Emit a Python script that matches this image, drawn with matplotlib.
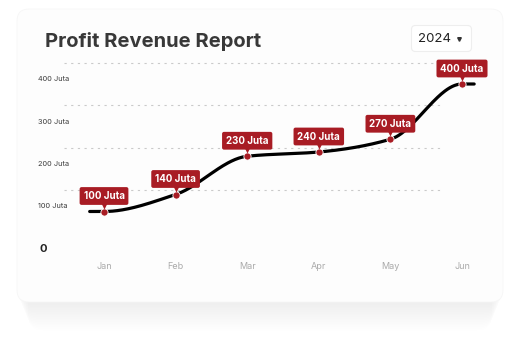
import numpy as np
import matplotlib.pyplot as plt
import matplotlib.transforms as mtransforms
from matplotlib.patches import FancyBboxPatch

plt.rcParams['font.family'] = ['Inter', 'DejaVu Sans']

# data
months = ['Jan', 'Feb', 'Mar', 'Apr', 'May', 'Jun']
profit = [100, 140, 230, 240, 270, 400]          # in Juta
y_ticks = [0, 100, 200, 300, 400]
y_tick_labels = ['0', '100 Juta', '200 Juta', '300 Juta', '400 Juta']
year = '2024'

RED = '#a81c24'
W, H = 520, 343


def monotone_cubic(xk, yk, n=60):
    """Fritsch-Carlson monotone cubic through the nodes."""
    xk = np.asarray(xk, float)
    yk = np.asarray(yk, float)
    h = np.diff(xk)
    d = np.diff(yk) / h
    m = np.zeros_like(yk)
    for i in range(1, len(yk) - 1):
        if d[i - 1] * d[i] > 0:
            w1 = 2 * h[i] + h[i - 1]
            w2 = h[i] + 2 * h[i - 1]
            m[i] = (w1 + w2) / (w1 / d[i - 1] + w2 / d[i])
    xs, ys = [], []
    for i in range(len(h)):
        t = np.linspace(0, 1, n)
        h00 = 2 * t**3 - 3 * t**2 + 1
        h10 = t**3 - 2 * t**2 + t
        h01 = -2 * t**3 + 3 * t**2
        h11 = t**3 - t**2
        xs.append(xk[i] + t * h[i])
        ys.append(h00 * yk[i] + h10 * h[i] * m[i] + h01 * yk[i + 1] + h11 * h[i] * m[i + 1])
    return np.concatenate(xs), np.concatenate(ys)


fig = plt.figure(figsize=(W / 100, H / 100), dpi=100)
fig.patch.set_facecolor('white')

# background layer in pixel coordinates
bg = fig.add_axes([0, 0, 1, 1])
bg.set_xlim(0, W)
bg.set_ylim(H, 0)
bg.axis('off')

# soft drop shadow under the card
for k in range(16):
    off = 3 + k * 1.7
    bg.add_patch(FancyBboxPatch((18 + k * 0.7, 12 + off), 484 - k * 1.4, 290,
                                boxstyle='round,pad=0,rounding_size=14',
                                fc='black', ec='none', alpha=0.0045, zorder=1))
bg.add_patch(FancyBboxPatch((17, 9), 486, 293, boxstyle='round,pad=0,rounding_size=12',
                            fc='#fdfdfd', ec='#f6f6f6', lw=0.6, zorder=2))

bg.text(45, 47, 'Profit Revenue Report', fontsize=14.5, fontweight='bold',
        color='#383838', ha='left', va='baseline', zorder=3)

# year dropdown
bg.add_patch(FancyBboxPatch((411.5, 25.5), 60, 26, boxstyle='round,pad=0,rounding_size=4',
                            fc='white', ec='#eeeeee', lw=0.8, zorder=3))
bg.text(418, 38.5, year, fontsize=9.5, color='#222222', ha='left', va='center', zorder=4)
bg.plot([459], [38.5], marker='v', ms=2.6, color='#333333', zorder=4)

# plot area
x0, x1, y0, y1 = 30, 500, 40, 258
ax = fig.add_axes([x0 / W, 1 - y1 / H, (x1 - x0) / W, (y1 - y0) / H])
ax.patch.set_alpha(0)
px_per_idx = 71.6
px_per_unit = 0.425
ax.set_xlim((x0 - 104) / px_per_idx, (x1 - 104) / px_per_idx)
ax.set_ylim((254 - y1) / px_per_unit, (254 - y0) / px_per_unit)
for s in ax.spines.values():
    s.set_visible(False)

x = np.arange(len(months))
ax.set_xticks(x)
ax.set_xticklabels(months, fontsize=6.5, color='#aaaaaa')
ax.tick_params(axis='x', length=0, pad=3)
ax.set_yticks([])

# dotted guide lines sit half a step above each tick
for v in y_ticks[1:]:
    ax.hlines(v + 50, -0.56, 4.73, colors='#cacaca', linestyles=(0, (2, 4)), lw=0.8, zorder=1)

# y labels, left aligned outside the plot area
lab_tr = mtransforms.blended_transform_factory(bg.transData, ax.transData)
lab_tr = lab_tr + mtransforms.ScaledTranslation(0, 5 / 100, fig.dpi_scale_trans)
for v, lab in zip(y_ticks, y_tick_labels):
    if v == 0:
        ax.text(39, v, lab, transform=lab_tr, fontsize=8, fontweight='bold',
                color='#222222', ha='left', va='center')
    else:
        ax.text(38, v, lab, transform=lab_tr, fontsize=5.3, color='#3a3a3a',
                ha='left', va='center')

# smooth line with short flat ends
xk = np.concatenate([[x[0] - 0.2], x, [x[-1] + 0.17]])
yk = np.concatenate([[profit[0]], profit, [profit[-1]]])
xs, ys = monotone_cubic(xk, yk)
ax.plot(xs, ys, color='black', lw=2.3, solid_capstyle='round', zorder=3)
ax.plot(x, profit, 'o', ms=5.2, mfc=RED, mec='white', mew=0.6, zorder=5)

# value callouts
ptr = ax.transData + mtransforms.ScaledTranslation(0, 6 / 100, fig.dpi_scale_trans)
for xi, v in zip(x, profit):
    ax.plot([xi], [v], marker='v', ms=4.5, color=RED, mec='none', transform=ptr, zorder=6)
    ax.annotate(f'{v} Juta', (xi, v), xytext=(0, 15.5), textcoords='offset pixels',
                ha='center', va='center', fontsize=7, fontweight='bold', color='white',
                bbox=dict(boxstyle='round,pad=0.4,rounding_size=0.2', fc=RED, ec='none'),
                zorder=7)

fig.savefig('out.png', dpi=100)
